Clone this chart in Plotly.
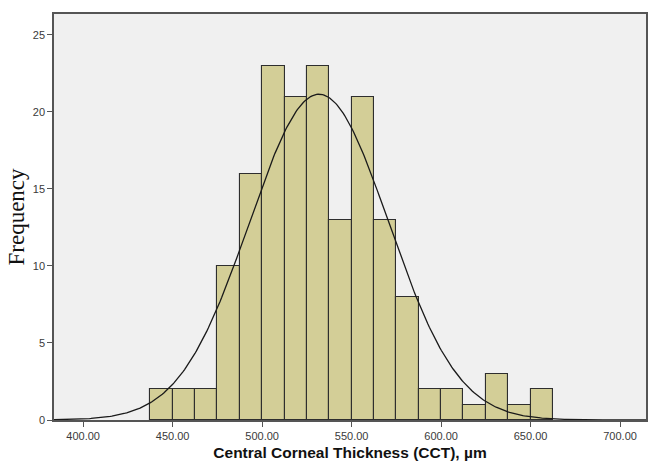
import numpy as np
import plotly.graph_objects as go

# Histogram data (bin width 12.5, starting at 437.5)
bin_edges_start = 437.5
bin_width = 12.5
counts = [2, 2, 2, 10, 16, 23, 21, 23, 13, 21, 13, 8, 2, 2, 1, 3, 1, 2]

# Normal curve parameters (fitted)
cct_mean = 531.8
cct_sd = 38.9

x_ticks = [400, 450, 500, 550, 600, 650, 700]
x_tick_labels = ["400.00", "450.00", "500.00", "550.00", "600.00", "650.00", "700.00"]
y_ticks = [0, 5, 10, 15, 20, 25]

centers = [bin_edges_start + bin_width * (i + 0.5) for i in range(len(counts))]
n_total = sum(counts)

xr = [383.7, 714.5]
xs = np.linspace(xr[0], xr[1], 400)
ys = n_total * bin_width / (cct_sd * np.sqrt(2 * np.pi)) * np.exp(-0.5 * ((xs - cct_mean) / cct_sd) ** 2)

fig = go.Figure()
fig.add_trace(go.Bar(
    x=centers, y=counts, width=bin_width,
    marker=dict(color="#d3ce97", line=dict(color="#2e2e2e", width=1.1)),
    showlegend=False, hoverinfo="x+y",
))
fig.add_trace(go.Scatter(
    x=xs, y=ys, mode="lines",
    line=dict(color="#1a1a1a", width=1.3),
    showlegend=False,
))

fig.update_layout(
    width=648, height=463,
    margin=dict(l=54, r=0, t=14, b=43),
    paper_bgcolor="white",
    plot_bgcolor="#f0f0f0",
    bargap=0,
    xaxis=dict(
        range=xr, tickvals=x_ticks, ticktext=x_tick_labels,
        showgrid=False, zeroline=False,
        showline=True, linecolor="#555555", linewidth=1.5, mirror=True,
        ticks="outside", ticklen=5, tickcolor="#555555",
        tickfont=dict(family="Liberation Sans, Arial", size=11, color="#3a3a3a"),
        title=dict(text="<b>Central Corneal Thickness (CCT), µm</b>",
                   font=dict(family="Liberation Sans, Arial", size=15.5, color="#111111"),
                   standoff=6),
    ),
    yaxis=dict(
        range=[0, 26.36], tickvals=y_ticks,
        showgrid=False, zeroline=False,
        showline=True, linecolor="#555555", linewidth=1.5, mirror=True,
        ticks="outside", ticklen=5, tickcolor="#555555",
        tickfont=dict(family="Liberation Sans, Arial", size=11, color="#3a3a3a"),
        title=dict(text="Frequency",
                   font=dict(family="Liberation Serif, Times New Roman", size=23, color="#111111"),
                   standoff=2),
    ),
)

fig.write_html("out.html")
